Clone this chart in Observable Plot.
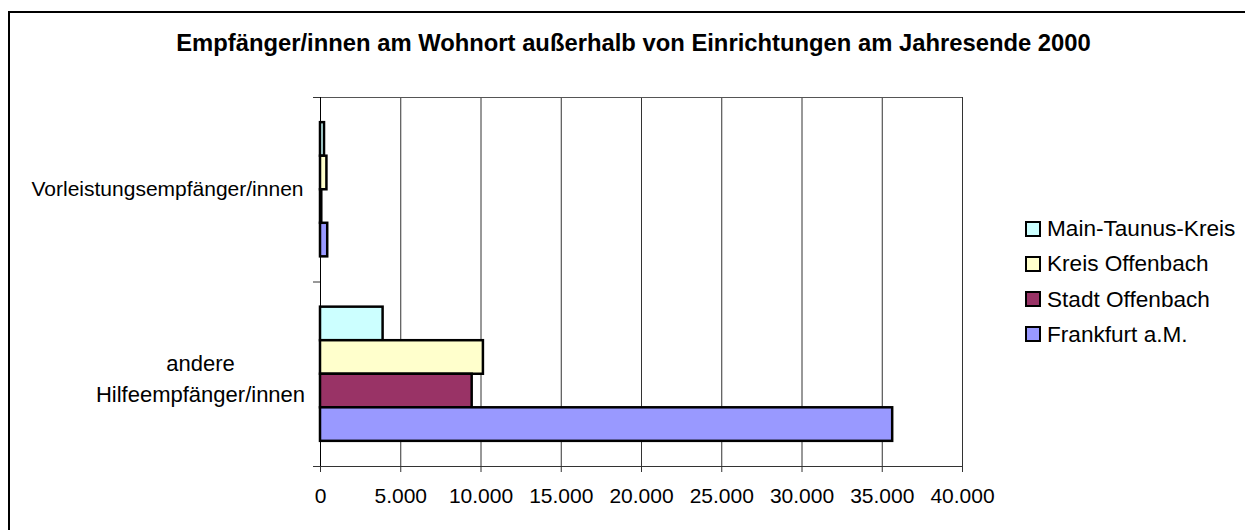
<!DOCTYPE html>
<html>
<head>
<meta charset="utf-8">
<script src="https://cdn.jsdelivr.net/npm/d3@7"></script>
<script src="https://cdn.jsdelivr.net/npm/@observablehq/plot@0.6"></script>
<style>
  html, body { margin: 0; padding: 0; background: #fff; overflow: hidden; }
  body { width: 1245px; height: 530px; position: relative; font-family: "Liberation Sans", Arial, sans-serif; }
  #border { position: absolute; left: 8px; top: 11px; width: 1237px; height: 519px; border-left: 2px solid #000; border-top: 2px solid #000; box-sizing: border-box; }
  #title { position: absolute; top: 31.8px; left: 633.5px; transform: translateX(-50%); white-space: nowrap; font-weight: bold; font-size: 23.8px; line-height: 22px; color: #000; }
  #chart { position: absolute; left: 0; top: 0; }
  .lg { position: absolute; left: 1025px; height: 21px; font-size: 22.6px; line-height: 21px; white-space: nowrap; color: #000; }
  .lg .sw { position: absolute; left: 0; top: 2.6px; width: 16px; height: 16px; border: 2px solid #000; box-sizing: border-box; }
  .lg .tx { position: absolute; left: 22px; top: 0; }
</style>
</head>
<body>
<div id="border"></div>
<div id="chart"></div>
<div id="title">Empfänger/innen am Wohnort außerhalb von Einrichtungen am Jahresende 2000</div>
<div id="legend"></div>
<script>
const categories = ["Vorleistungsempfänger/innen", "andere\nHilfeempfänger/innen"];
const series = ["Main-Taunus-Kreis", "Kreis Offenbach", "Stadt Offenbach", "Frankfurt a.M."];
const colors = ["#CCFFFF", "#FFFFCC", "#993366", "#9999FF"];
const vorleistungValues = [250, 400, 80, 450];
const andereValues = [3900, 10150, 9450, 35650];
const xTicks = [0, 5000, 10000, 15000, 20000, 25000, 30000, 35000, 40000];

const valuesByCat = [vorleistungValues, andereValues];
const rows = [];
categories.forEach((cat, ci) => {
  series.forEach((s, si) => {
    rows.push({cat, ci, series: s, si, value: valuesByCat[ci][si]});
  });
});
const catRows = categories.map((cat, ci) => ({cat, ci}));

const fmt = d => d3.format(",")(d).replace(/,/g, ".");
const font = "Liberation Sans, Arial, sans-serif";
const nSlots = series.length + 1.5; // bars plus outer padding

const chart = Plot.plot({
  width: 1245,
  height: 530,
  marginLeft: 320,
  marginRight: 283,
  marginTop: 97,
  marginBottom: 64,
  style: {fontFamily: font, fontSize: "21px", color: "#000", background: "transparent", overflow: "visible"},
  x: {type: "linear", domain: [0, 40000]},
  y: {type: "linear", domain: [0, categories.length], reverse: true},
  color: {domain: series, range: colors},
  marks: [
    Plot.ruleX(xTicks.slice(1), {stroke: "#333", strokeWidth: 1}),
    Plot.ruleY([0], {stroke: "#555", strokeWidth: 1}),
    Plot.ruleY([categories.length], {stroke: "#333", strokeWidth: 1}),
    Plot.rectX(rows, {
      x1: 0,
      x2: "value",
      y1: d => d.ci + (0.75 + d.si) / nSlots,
      y2: d => d.ci + (1.75 + d.si) / nSlots,
      fill: "series",
      stroke: "#000",
      strokeWidth: 2.5
    }),
    Plot.ruleX([0], {stroke: "#000", strokeWidth: 1}),
    Plot.axisY({ticks: d3.range(categories.length + 1), tickSize: 7, tickFormat: () => "", label: null, stroke: "#333"}),
    Plot.axisX({ticks: xTicks, tickSize: 6, tickPadding: 16, tickFormat: fmt, label: null, fontSize: 21, stroke: "#333"}),
    Plot.text(catRows.filter(d => d.ci === 0), {
      y: d => d.ci + 0.5, text: "cat", frameAnchor: "left", textAnchor: "end", dx: -17, fontSize: 21, fill: "#000"
    }),
    Plot.text(catRows.filter(d => d.ci === 1), {
      y: d => d.ci + 0.5, text: "cat", frameAnchor: "left", textAnchor: "middle", dx: -120, dy: 2, lineHeight: 1.45, fontSize: 22, fill: "#000"
    })
  ]
});
document.getElementById("chart").appendChild(chart);

const legend = document.getElementById("legend");
series.forEach((s, i) => {
  const item = document.createElement("div");
  item.className = "lg";
  item.style.top = (218.2 + i * 35.2) + "px";
  const sw = document.createElement("div");
  sw.className = "sw";
  sw.style.background = colors[i];
  const tx = document.createElement("div");
  tx.className = "tx";
  tx.textContent = s;
  item.appendChild(sw);
  item.appendChild(tx);
  legend.appendChild(item);
});
</script>
</body>
</html>
